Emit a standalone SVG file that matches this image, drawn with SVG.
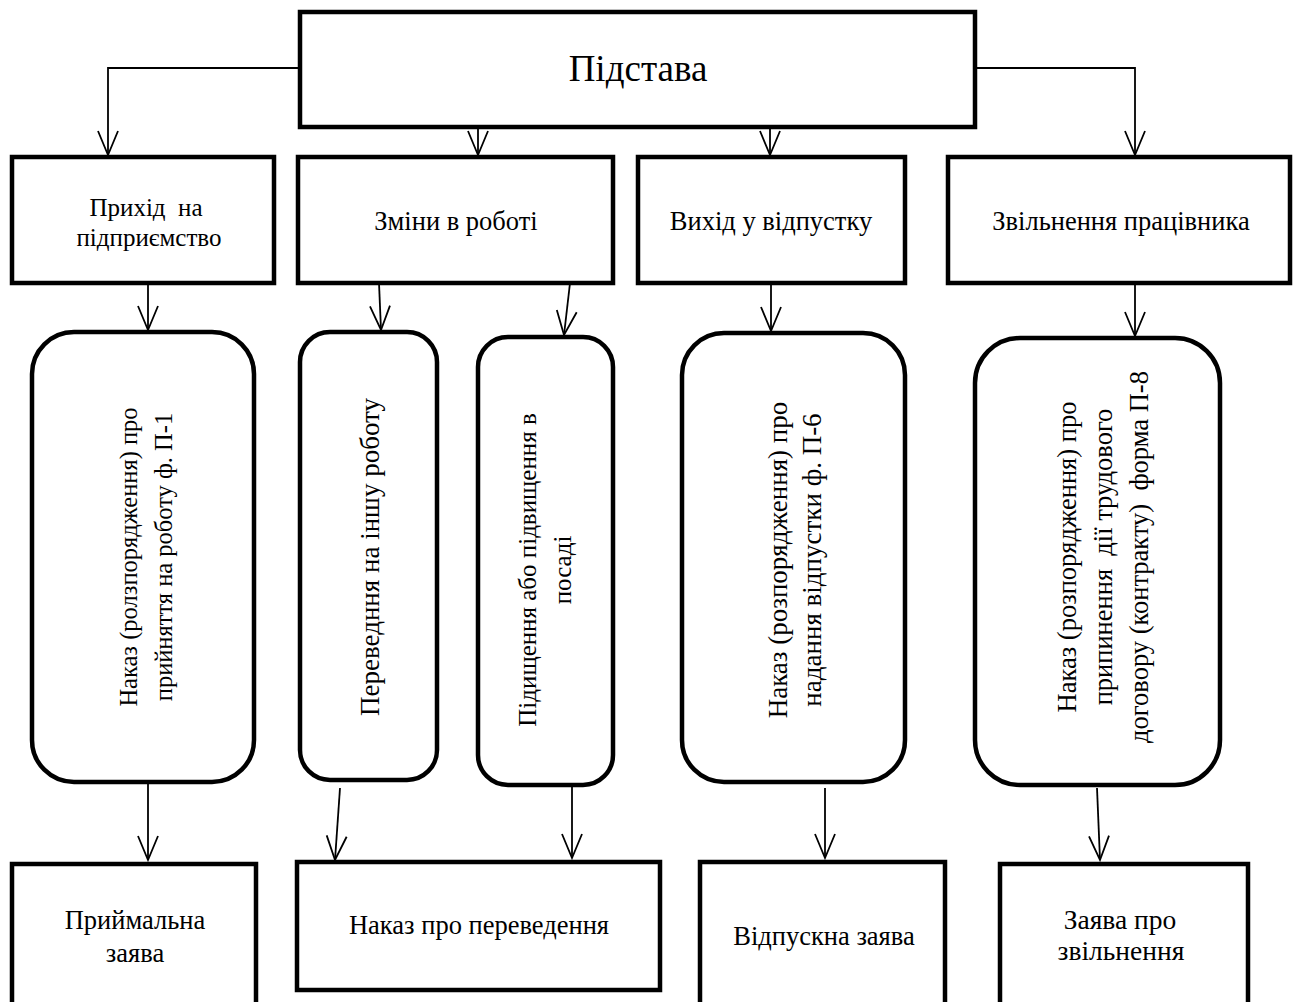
<svg xmlns="http://www.w3.org/2000/svg" width="1305" height="1002" viewBox="0 0 1305 1002">
<defs>
<marker id="arr" markerUnits="userSpaceOnUse" markerWidth="30" markerHeight="30" refX="0" refY="0" viewBox="-26 -13 30 26" orient="auto" overflow="visible">
<path d="M-24,-10 L0,0 L-24,10" fill="none" stroke="#000" stroke-width="1.8"/>
</marker>
</defs>
<style>
.box{fill:#fff;stroke:#000;stroke-width:4.5}
.rbox{fill:#fff;stroke:#000;stroke-width:4.5}
.t{font-family:"Liberation Serif","Times New Roman",serif;font-size:26.5px;fill:#000;text-anchor:middle}
.big{font-size:37px}
.c{fill:none;stroke:#000;stroke-width:1.8;marker-end:url(#arr)}
</style>
<rect width="1305" height="1002" fill="#fff"/>
<g id="connectors">
<path class="c" d="M300,68 H108 V155"/>
<path class="c" d="M975,68 H1135 V155"/>
<path class="c" d="M478,127 V155"/>
<path class="c" d="M770,127 V155"/>
<path class="c" d="M148,283 V330"/>
<path class="c" d="M379,283 L381,330"/>
<path class="c" d="M570,283 L564,335"/>
<path class="c" d="M771,283 V331"/>
<path class="c" d="M1135,283 V336"/>
<path class="c" d="M148,782 V860"/>
<path class="c" d="M340,788 L335,860"/>
<path class="c" d="M572,787 V858"/>
<path class="c" d="M825,788 V858"/>
<path class="c" d="M1097,788 L1100,860"/>
</g>
<g id="n-pidstava">
<rect class="box" x="300" y="12" width="675" height="115"/>
<text class="t big" x="638" y="81">Підстава</text>
</g>
<g id="n-prykhid">
<rect class="box" x="12" y="157" width="262" height="126"/>
<text class="t" x="146" y="216" xml:space="preserve" style="font-size:25px">Прихід  на</text>
<text class="t" x="149" y="246" style="font-size:25px">підприємство</text>
</g>
<g id="n-zminy">
<rect class="box" x="298" y="157" width="315" height="126"/>
<text class="t" x="456" y="230">Зміни в роботі</text>
</g>
<g id="n-vykhid">
<rect class="box" x="638" y="157" width="267" height="126"/>
<text class="t" x="771" y="230">Вихід у відпустку</text>
</g>
<g id="n-zvilnennya">
<rect class="box" x="948" y="157" width="342" height="126"/>
<text class="t" x="1121" y="230">Звільнення працівника</text>
</g>
<g id="n-nakaz-p1">
<rect class="rbox" x="32" y="332" width="222" height="450" rx="42"/>
<g transform="translate(137,557) rotate(-90)" style="font-size:24.5px">
<text class="t" x="0" y="0" style="font-size:24.5px">Наказ (ролзпорядження) про</text>
<text class="t" x="0" y="35" style="font-size:24.5px">прийняття на роботу ф. П-1</text>
</g>
</g>
<g id="n-perevednya">
<rect class="rbox" x="300" y="332" width="137" height="448" rx="30"/>
<g transform="translate(379,557) rotate(-90)">
<text class="t" x="0" y="0" style="font-size:27px">Переведння на іншу роботу</text>
</g>
</g>
<g id="n-pidyshchennya">
<rect class="rbox" x="478" y="337" width="135" height="448" rx="30"/>
<g transform="translate(536,570) rotate(-90)">
<text class="t" x="0" y="0" style="font-size:25px">Підищення або підвищення в</text>
<text class="t" x="0" y="35" style="font-size:25px">посаді</text>
</g>
</g>
<g id="n-nakaz-p6">
<rect class="rbox" x="682" y="333" width="223" height="449" rx="42"/>
<g transform="translate(787,560) rotate(-90)">
<text class="t" x="0" y="0" style="font-size:27px">Наказ (розпорядження) про</text>
<text class="t" x="0" y="34" style="font-size:27px">надання відпустки ф. П-6</text>
</g>
</g>
<g id="n-nakaz-p8">
<rect class="rbox" x="975" y="338" width="245" height="447" rx="45"/>
<g transform="translate(1076,557) rotate(-90)">
<text class="t" x="0" y="0" style="font-size:26.5px">Наказ (розпорядження) про</text>
<text class="t" x="0" y="36" xml:space="preserve" style="font-size:26.5px">припинення  дії трудового</text>
<text class="t" x="0" y="72" xml:space="preserve" style="font-size:26.5px">договору (контракту)  форма П-8</text>
</g>
</g>
<g id="n-pryimalna">
<rect class="box" x="12" y="864" width="244" height="150"/>
<text class="t" x="135" y="929">Приймальна</text>
<text class="t" x="135" y="962">заява</text>
</g>
<g id="n-nakaz-pereved">
<rect class="box" x="297" y="862" width="363" height="128"/>
<text class="t" x="479" y="934">Наказ про переведення</text>
</g>
<g id="n-vidpuskna">
<rect class="box" x="700" y="862" width="245" height="152"/>
<text class="t" x="824" y="945">Відпускна заява</text>
</g>
<g id="n-zayava-zvil">
<rect class="box" x="1000" y="864" width="248" height="150"/>
<text class="t" x="1120" y="929" style="font-size:27.5px">Заява про</text>
<text class="t" x="1121" y="960" style="font-size:27.5px">звільнення</text>
</g>
</svg>
